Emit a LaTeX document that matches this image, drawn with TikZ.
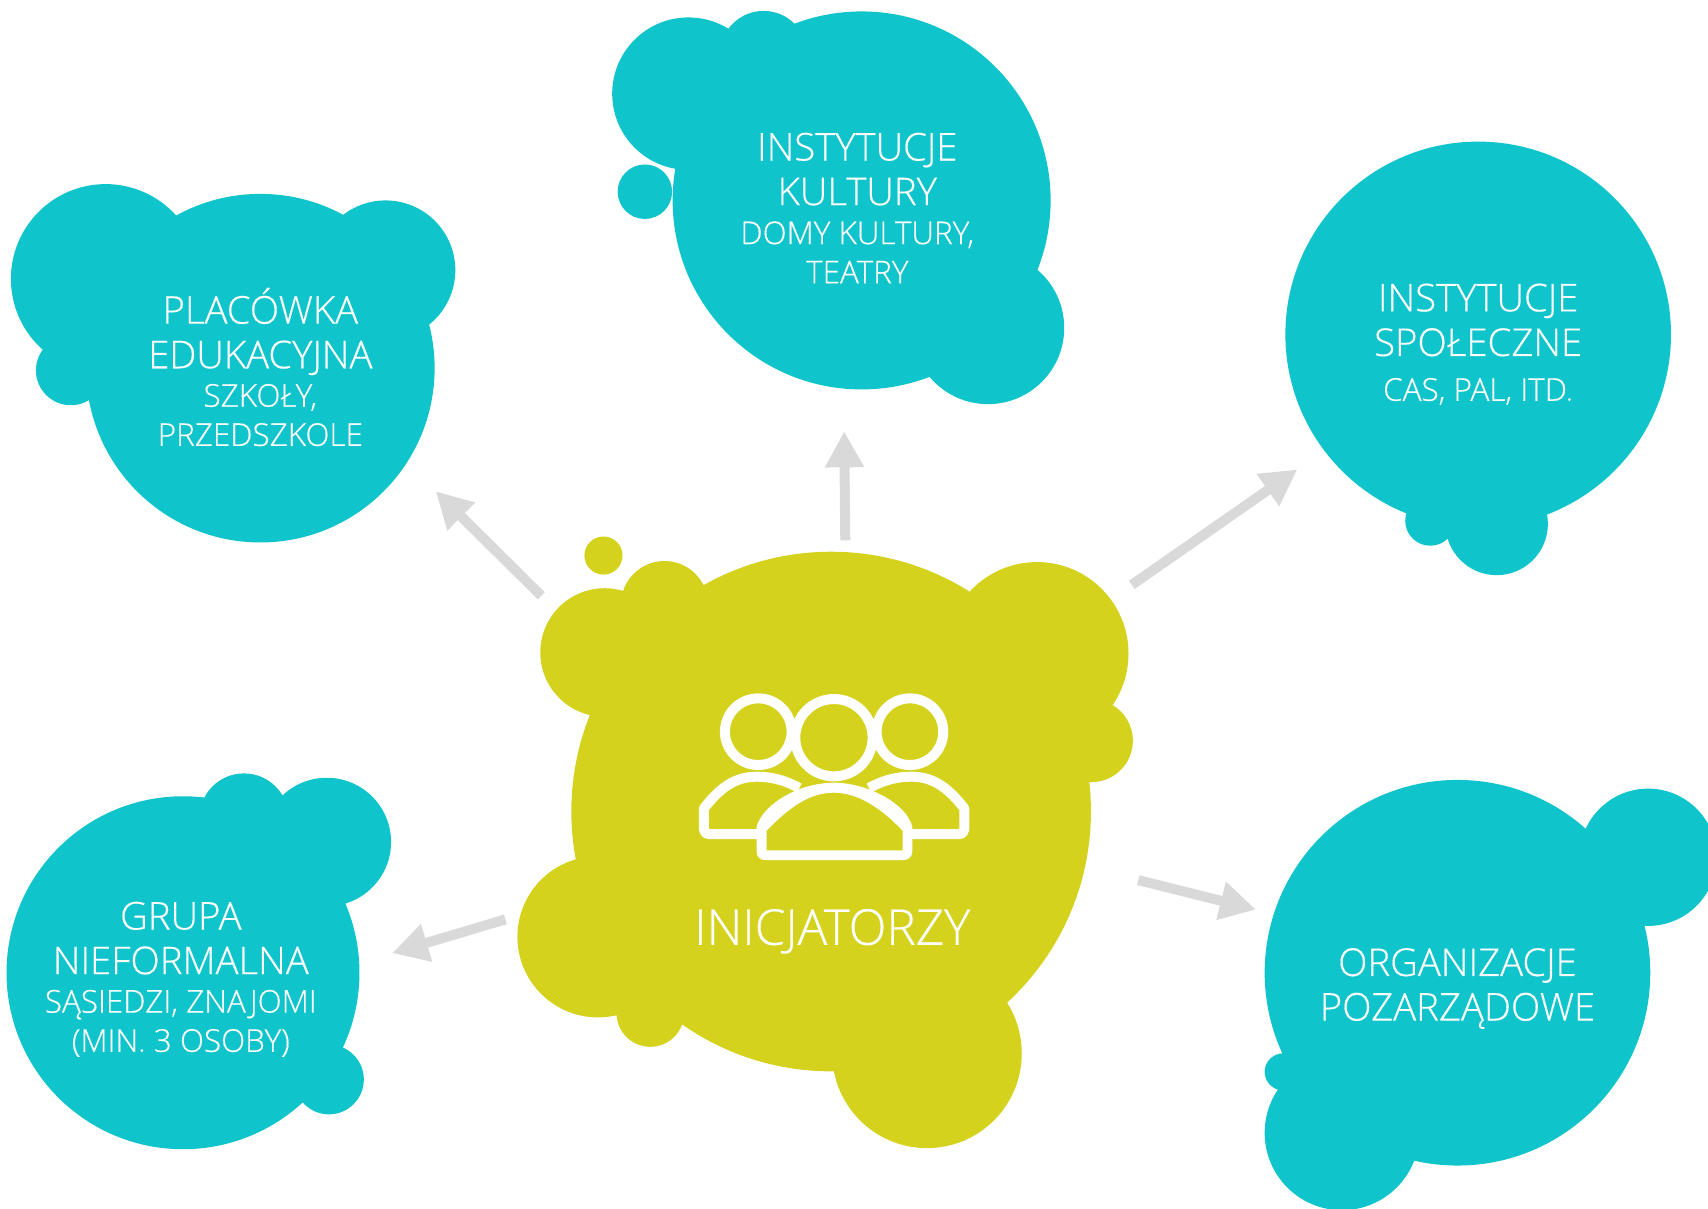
\documentclass[tikz,border=0pt]{standalone}
\usepackage{fontspec}
\setmainfont{Open Sans}[UprightFont=* Light,FakeBold=0.35]
\usetikzlibrary{arrows.meta}
\definecolor{tealblob}{RGB}{15,196,203}
\definecolor{yellowblob}{RGB}{213,210,30}
\definecolor{arrowgray}{RGB}{217,217,217}
\tikzset{
  big/.style={font=\fontsize{21.8pt}{25.4pt}\selectfont},
  lab/.style={text=white,align=center,inner sep=0pt},
  flow/.style={draw=arrowgray,line width=2mm,-{Triangle[length=7.2mm,width=7.4mm,color=arrowgray]}},
}
\newcommand{\smalltxt}[1]{{\fontsize{17.9pt}{22.3pt}\selectfont #1}}
\begin{document}
\begin{tikzpicture}[x=0.021786cm,y=-0.021786cm]
\useasboundingbox (0,0) rectangle (1568,1109);
% Placowka
\fill[tealblob] (239,338) circle[radius=160] (97,256) circle[radius=87] (354,248) circle[radius=64] (65,340) circle[radius=32];
% Kultury
\fill[tealblob] (791,184) circle[radius=173.5] (632,86) circle[radius=70] (701,50) circle[radius=40] (907,301) circle[radius=70];
\fill[tealblob] (592,176) circle[radius=25];
% Spoleczne
\fill[tealblob] (1357,307) circle[radius=177] (1374,481) circle[radius=47] (1313,478) circle[radius=23];
% Organizacje
\fill[tealblob] (1338,893) circle[radius=177] (1513,787) circle[radius=63] (1232,1040) circle[radius=71] (1178,984) circle[radius=17];
% Grupa
\fill[tealblob] (168,893) circle[radius=162] (300,773) circle[radius=59] (224,751) circle[radius=41] (302,991) circle[radius=32];
% Inicjatorzy
\fill[yellowblob] (763,745) circle[radius=238.5] (952,600) circle[radius=84] (1002,680) circle[radius=38] (555,599) circle[radius=59] (610,555) circle[radius=40] (549,860) circle[radius=74] (597,930) circle[radius=31] (851,967) circle[radius=87];
\fill[yellowblob] (554,510) circle[radius=17.5];
% labels
\node[lab,big] (placowka) at (239,337) {PLACÓWKA\\EDUKACYJNA\\[-3.5pt]\smalltxt{SZKOŁY,}\\[-3.1pt]\smalltxt{PRZEDSZKOLE}};
\node[lab,big] (kultury) at (787,191) {INSTYTUCJE\\KULTURY\\[-3.2pt]\smalltxt{DOMY KULTURY,}\\[-3.1pt]\smalltxt{TEATRY}};
\node[lab,big] (spoleczne) at (1357,316) {INSTYTUCJE\\SPOŁECZNE\\[0.1pt]\smalltxt{CAS, PAL, ITD.}};
\node[lab,big] (pozarzadowe) at (1338,907.5) {ORGANIZACJE\\POZARZĄDOWE};
\node[lab,big] (grupa) at (166,899) {GRUPA\\NIEFORMALNA\\[-3.5pt]\smalltxt{SĄSIEDZI, ZNAJOMI}\\[-3.1pt]\smalltxt{(MIN. 3 OSOBY)}};
\node[lab,font=\fontsize{28.1pt}{30pt}\selectfont] (inicjatorzy) at (764,855) {INICJATORZY};
% connectors
\coordinate (a1) at (497,547); \coordinate (b1) at (400,451);
\coordinate (a2) at (776,496); \coordinate (b2) at (775,396);
\coordinate (a3) at (1039,537); \coordinate (b3) at (1191,431);
\coordinate (a4) at (1045,808); \coordinate (b4) at (1153,835);
\coordinate (a5) at (464,844); \coordinate (b5) at (360,875);
\draw[flow] (a1) -- (b1);
\draw[flow] (a2) -- (b2);
\draw[flow] (a3) -- (b3);
\draw[flow] (a4) -- (b4);
\draw[flow] (a5) -- (b5);
% icon
\begin{scope}[shift={(624.2,615.1)},scale=0.306]
\draw[white,line width=2mm] (235,185) circle[radius=100] (462,203) circle[radius=116] (690,185) circle[radius=100];
\draw[white,line width=2mm,line join=round]
  (358,354) .. controls (310,328) and (270,320) .. (230,320) .. controls (160,320) and (115,360) .. (72,415) -- (72,478) .. controls (72,486) and (78,492) .. (88,492) -- (240,492);
\draw[white,line width=2mm,line join=round]
  (567,354) .. controls (615,328) and (655,320) .. (695,320) .. controls (765,320) and (810,360) .. (853,415) -- (853,478) .. controls (853,486) and (847,492) .. (837,492) -- (685,492);
\fill[white,even odd rule]
  (230,470) .. controls (250,400) and (360,338) .. (462,338) .. controls (560,338) and (680,400) .. (697,470) -- (697,545) .. controls (697,560) and (685,570) .. (672,570) -- (255,570) .. controls (240,570) and (230,560) .. (230,545) -- cycle
  (260,482) .. controls (330,410) and (390,368) .. (462,368) .. controls (530,368) and (600,410) .. (668,482) -- (668,541) -- (260,541) -- cycle;
\end{scope}
\end{tikzpicture}
\end{document}
